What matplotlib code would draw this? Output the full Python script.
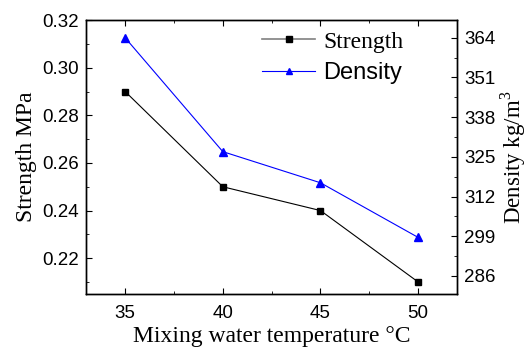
import numpy as np
import matplotlib.pyplot as plt
from matplotlib.ticker import MultipleLocator
from matplotlib.lines import Line2D

temperature = [35, 40, 45, 50]
strength = [0.29, 0.25, 0.24, 0.21]
density = [364.0, 326.7, 316.5, 298.6]

sans = 'Liberation Sans'
serif = 'Liberation Serif'
plt.rcParams['mathtext.fontset'] = 'custom'
plt.rcParams['mathtext.rm'] = serif

fig = plt.figure(figsize=(5.28, 3.52), dpi=100)
ax = fig.add_axes([0.163, 0.165, 0.703, 0.778])
ax2 = ax.twinx()

ax.plot(temperature, strength, color='black', lw=0.8, marker='s', markersize=5)
ax2.plot(temperature, density, color='blue', lw=0.8, marker='^', markersize=6)

ax.set_xlim(33, 52)
ax.set_ylim(0.205, 0.32)
ax2.set_ylim(280.1, 369.8)

ax.xaxis.set_major_locator(MultipleLocator(5))
ax.xaxis.set_minor_locator(MultipleLocator(2.5))
ax.yaxis.set_major_locator(MultipleLocator(0.02))
ax.yaxis.set_minor_locator(MultipleLocator(0.01))
ax2.yaxis.set_major_locator(MultipleLocator(13))
ax2.yaxis.set_minor_locator(MultipleLocator(6.5))
ax2.set_yticks([286, 299, 312, 325, 338, 351, 364])

ax.tick_params(which='both', direction='in', top=True, right=False, labelsize=13.5, pad=5)
ax.tick_params(axis='x', which='both', pad=8)
ax.tick_params(which='major', length=4)
ax.tick_params(which='minor', length=2.5)
ax2.tick_params(which='both', direction='in', labelsize=13.5, pad=5)
ax2.tick_params(which='major', length=4)
ax2.tick_params(which='minor', length=2.5)
ax.set_yticks(ax.get_yticks())
ax.set_yticklabels(['%.2f' % v for v in ax.get_yticks()])
ax.set_ylim(0.205, 0.32)
for lab in ax.get_xticklabels() + ax.get_yticklabels() + ax2.get_yticklabels():
    lab.set_family(sans)

for a in (ax, ax2):
    for s in a.spines.values():
        s.set_linewidth(1.0)

ax.set_xlabel('Mixing water temperature \u00b0C', family=serif, fontsize=17, labelpad=3)
ax.set_ylabel('Strength MPa', family=serif, fontsize=17, labelpad=4)
ax2.set_ylabel('Density kg/m$^3$', family=serif, fontsize=16.5, labelpad=2)

handles = [
    Line2D([], [], color='gray', lw=1.2, marker='s', markersize=4.5,
           markerfacecolor='black', markeredgecolor='black'),
    Line2D([], [], color='blue', lw=0.8, marker='^', markersize=5),
]
leg = ax.legend(handles, ['Strength', 'Density'], loc='upper left',
                frameon=False, handlelength=2.25, handletextpad=0.34,
                borderpad=0, borderaxespad=0, labelspacing=0.4,
                bbox_to_anchor=(0.474, 0.96), prop={'size': 17})
texts = leg.get_texts()
texts[0].set_family(serif)
texts[1].set_family(sans)

fig.savefig('out.png', dpi=100)
